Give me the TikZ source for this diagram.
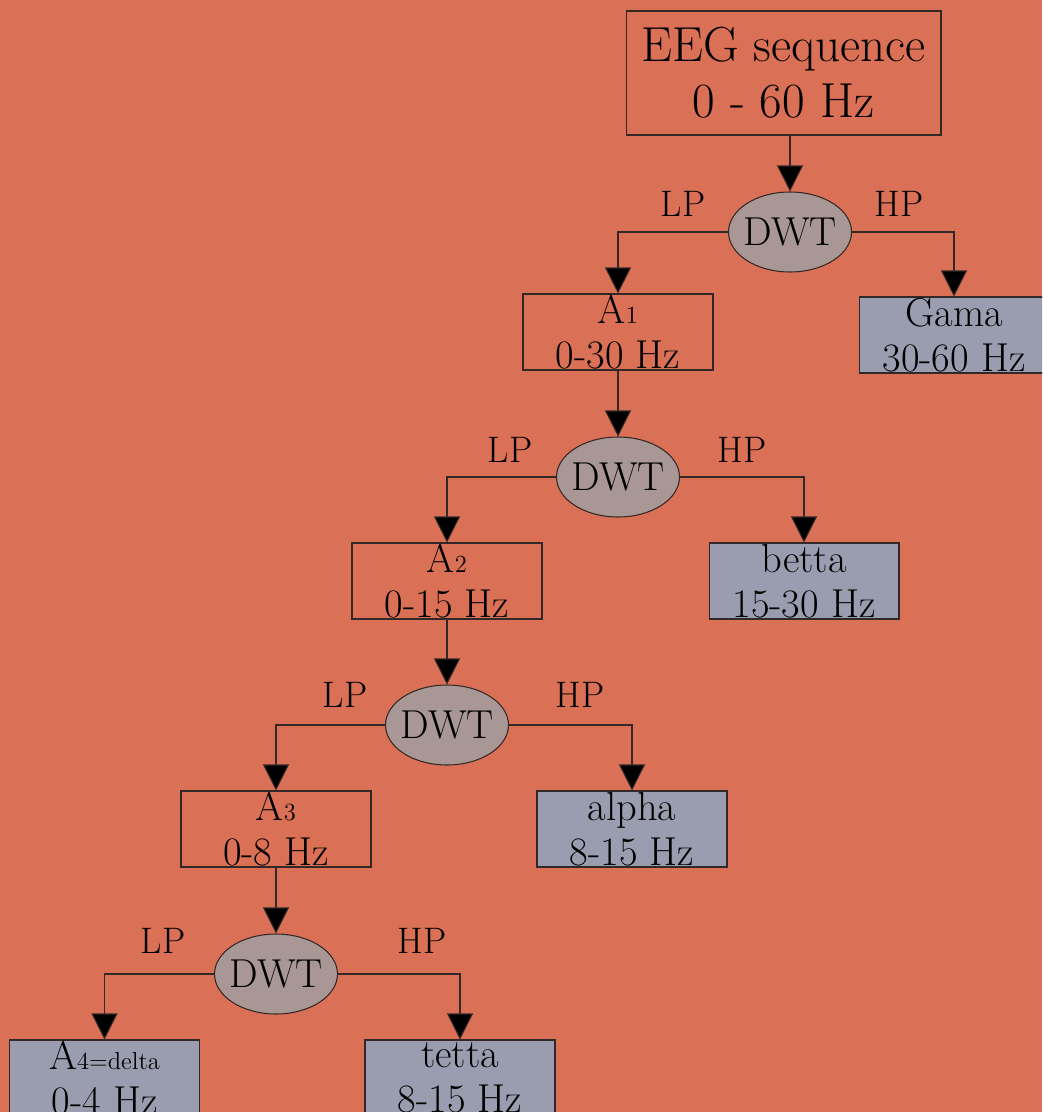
\documentclass[tikz,border=0pt]{standalone}
\usepackage{fontspec}
\usetikzlibrary{arrows.meta,shapes.geometric}
\definecolor{bgc}{RGB}{218,112,85}
\definecolor{dwtc}{RGB}{168,151,148}
\definecolor{bandc}{RGB}{154,157,175}
\definecolor{edgec}{RGB}{50,40,40}
\tikzset{
  every node/.style={text=black},
  stage/.style={draw=edgec, line width=0.6pt, minimum width=3.8cm, minimum height=1.52cm,
    inner sep=0pt, align=center, font=\fontsize{23}{25.5}\selectfont},
  band/.style={stage, fill=bandc},
  dwt/.style={ellipse, draw=edgec, line width=0.6pt, fill=dwtc, minimum width=2.46cm,
    minimum height=1.6cm, inner xsep=-0.07cm, inner ysep=0pt, font=\fontsize{23}{25}\selectfont},
  lbl/.style={font=\fontsize{21}{22}\selectfont, inner sep=0pt},
  conn/.style={draw=edgec, line width=0.6pt, -{Triangle[width=0.52cm,length=0.52cm,fill=black]}},
}
\newcommand{\subn}[1]{{\fontsize{14}{15}\selectfont #1}}
\begin{document}
\begin{tikzpicture}[x=0.02cm,y=-0.02cm]
\useasboundingbox (0,0) rectangle (1042,1112);
\fill[bgc] (0,0) rectangle (1042,1112);
\begin{scope}
\clip (0,0) rectangle (1042,1112);
% top
\node[draw=edgec, line width=0.6pt, minimum width=6.3cm, minimum height=2.48cm, inner sep=0pt,
  align=center, font=\fontsize{28}{32}\selectfont] (eeg) at (783.5,73) {EEG sequence\\0 - 60 Hz};
% level 1
\node[dwt] (d1) at (790,232) {DWT};
\node[stage] (a1) at (618,332) {A\subn{1}\\0-30 Hz};
\node[band] (g) at (954,335) {Gama\\30-60 Hz};
\node[lbl] (lp1) at (683,204) {LP};
\node[lbl] (hp1) at (899,204) {HP};
% level 2
\node[dwt] (d2) at (618,477) {DWT};
\node[stage] (a2) at (447,581) {A\subn{2}\\0-15 Hz};
\node[band] (b) at (804,581) {betta\\15-30 Hz};
\node[lbl] (lp2) at (510,450) {LP};
\node[lbl] (hp2) at (742,450) {HP};
% level 3
\node[dwt] (d3) at (447,725) {DWT};
\node[stage] (a3) at (276,829) {A\subn{3}\\0-8 Hz};
\node[band] (al) at (632,829) {alpha\\8-15 Hz};
\node[lbl] (lp3) at (345,695) {LP};
\node[lbl] (hp3) at (580,695) {HP};
% level 4
\node[dwt] (d4) at (276,974) {DWT};
\node[band] (a4) at (104.5,1078) {A\subn{4=delta}\\0-4 Hz};
\node[band] (t) at (460,1078) {tetta\\8-15 Hz};
\node[lbl] (lp4) at (163,941) {LP};
\node[lbl] (hp4) at (422,941) {HP};
% connectors
\draw[conn] (eeg.south -| d1) -- (d1.north);
\draw[conn] (d1.west) -| (a1.north);
\draw[conn] (d1.east) -| (g.north);
\draw[conn] (a1.south) -- (d2.north);
\draw[conn] (d2.west) -| (a2.north);
\draw[conn] (d2.east) -| (b.north);
\draw[conn] (a2.south) -- (d3.north);
\draw[conn] (d3.west) -| (a3.north);
\draw[conn] (d3.east) -| (al.north);
\draw[conn] (a3.south) -- (d4.north);
\draw[conn] (d4.west) -| (a4.north);
\draw[conn] (d4.east) -| (t.north);
\end{scope}
\end{tikzpicture}
\end{document}
